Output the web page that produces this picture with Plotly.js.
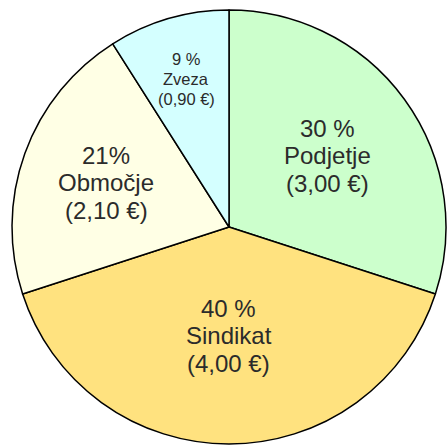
<!DOCTYPE html>
<html>
<head>
<meta charset="utf-8">
<script src="https://cdn.plot.ly/plotly-3.0.1.min.js"></script>
<style>html,body{margin:0;padding:0;background:#fff;overflow:hidden}#chart{width:447px;height:446px}</style>
</head>
<body>
<div id="chart"></div>
<script>
const categories = ["Podjetje", "Sindikat", "Območje", "Zveza"];
const amounts = [3.00, 4.00, 2.10, 0.90];
const percentLabels = ["30 %", "40 %", "21%", "9 %"];
const amountLabels = ["(3,00 €)", "(4,00 €)", "(2,10 €)", "(0,90 €)"];
const colors = ["#ccffcc", "#ffe27f", "#ffffe5", "#d4ffff"];

const W = 447, H = 446;
const cx = 229, cy = 227, R = 217;
const labelRadius = [0.56, 0.50, 0.60, 0.71];
const fontSizes = [24, 24, 24, 16.5];
const lineGaps = [27.5, 27.5, 27.5, 20];

const total = amounts.reduce((a, b) => a + b, 0);
let cum = 0;
const annotations = [];
categories.forEach((c, i) => {
  const mid = (cum + amounts[i] / 2) / total * 2 * Math.PI;
  cum += amounts[i];
  const px = cx + labelRadius[i] * R * Math.sin(mid);
  const py = cy - labelRadius[i] * R * Math.cos(mid);
  [percentLabels[i], c, amountLabels[i]].forEach((t, k) => {
    annotations.push({
      xref: 'paper', yref: 'paper', x: px / W, y: 1 - (py + (k - 1) * lineGaps[i]) / H,
      xanchor: 'center', yanchor: 'middle', showarrow: false,
      text: t,
      font: {family: '"Liberation Sans", Arial, sans-serif', size: fontSizes[i], color: '#2b2b2b'}
    });
  });
});

const trace = {
  type: 'pie',
  labels: categories,
  values: amounts,
  sort: false,
  direction: 'clockwise',
  rotation: 0,
  textinfo: 'none',
  hoverinfo: 'none',
  marker: {colors: colors, line: {color: '#000', width: 1.5}},
  domain: {x: [(cx - R) / W, (cx + R) / W], y: [(H - cy - R) / H, (H - cy + R) / H]},
  showlegend: false
};

Plotly.newPlot('chart', [trace], {
  width: W, height: H,
  margin: {l: 0, r: 0, t: 0, b: 0},
  paper_bgcolor: '#fff',
  showlegend: false,
  annotations: annotations
}, {staticPlot: true});
</script>
</body>
</html>
